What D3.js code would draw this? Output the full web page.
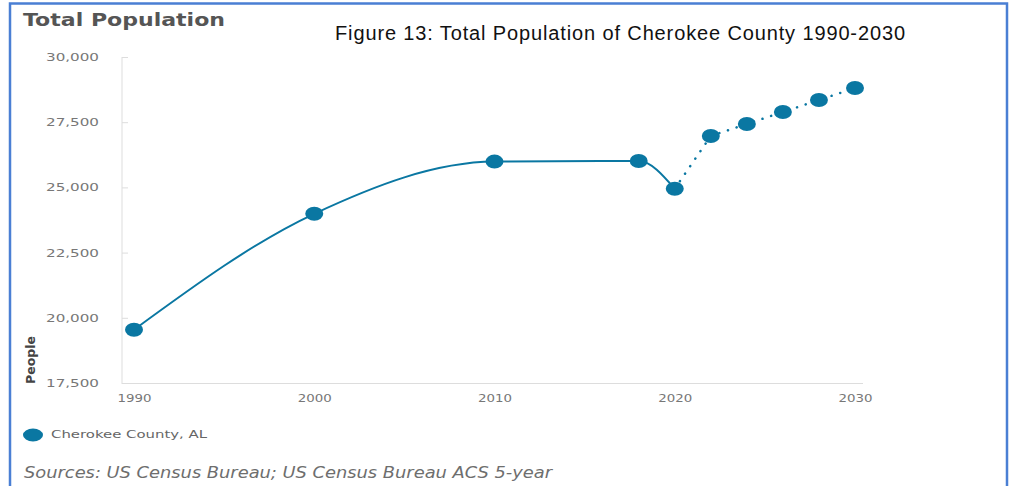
<!DOCTYPE html>
<html lang="en">
<head>
  <meta charset="UTF-8">
  <title>Total Population of Cherokee County 1990-2030</title>
  <script src="https://cdn.jsdelivr.net/npm/d3@7"></script>
  <style>
    body { margin: 0; background: #fff; }
    .tick text { font-family: "DejaVu Sans", sans-serif; fill: #777; }
  </style>
</head>
<body>
  <svg width="1014" height="486"></svg>
  <script>
    // observed values (census) and projections
    var years = [1990, 2000, 2010, 2018, 2020];
    var people = [19543, 23988, 25989, 26013, 24950];
    var projYears = [2020, 2022, 2024, 2026, 2028, 2030];
    var projPeople = [24950, 26971, 27431, 27891, 28351, 28811];
    var yTicks = [17500, 20000, 22500, 25000, 27500, 30000];
    var xTicks = [1990, 2000, 2010, 2020, 2030];
    var color = "#0a77a2";

    var svg = d3.select("svg");

    // blue frame round the picture
    svg.append("path")
      .attr("d", "M10,496 L10,3.5 L1007,3.5 L1007,496")
      .attr("fill", "none")
      .attr("stroke", "#4a7fd4")
      .attr("stroke-width", 2.5);

    var x = d3.scaleLinear().domain([1990, 2030]).range([134, 855]);
    var y = d3.scaleLinear().domain([17500, 30000]).range([383, 57]);

    // titles
    svg.append("text")
      .attr("x", 23).attr("y", 26)
      .style("font-family", "DejaVu Sans, sans-serif")
      .style("font-weight", "bold")
      .style("font-size", "18px")
      .style("fill", "#555")
      .attr("textLength", 202)
      .attr("lengthAdjust", "spacingAndGlyphs")
      .text("Total Population");

    svg.append("text")
      .attr("x", 335).attr("y", 40)
      .style("font-family", "Liberation Sans, sans-serif")
      .style("font-size", "20px")
      .style("fill", "#111")
      .attr("textLength", 570)
      .text("Figure 13: Total Population of Cherokee County 1990-2030");

    // axes
    var yAxis = d3.axisLeft(y).tickValues(yTicks).tickSizeInner(-6).tickSizeOuter(0)
      .tickPadding(23).tickFormat(d3.format(","));
    var gy = svg.append("g").attr("transform", "translate(122,0)").call(yAxis);
    gy.select(".domain").remove();
    gy.selectAll(".tick line").attr("stroke", "#ddd");
    gy.selectAll(".tick text").style("font-size", "11px")
      .attr("textLength", 53).attr("lengthAdjust", "spacingAndGlyphs");

    var xAxis = d3.axisBottom(x).tickValues(xTicks).tickSize(0).tickPadding(11)
      .tickFormat(d3.format("d"));
    var gx = svg.append("g").attr("transform", "translate(0,383)").call(xAxis);
    gx.select(".domain").remove();
    gx.selectAll(".tick text").style("font-size", "11px")
      .attr("textLength", 34).attr("lengthAdjust", "spacingAndGlyphs");

    svg.append("line").attr("x1", 122).attr("x2", 122).attr("y1", y(30000)).attr("y2", 384)
      .attr("stroke", "#ddd");
    svg.append("line").attr("x1", 122).attr("x2", 863).attr("y1", 383.5).attr("y2", 383.5)
      .attr("stroke", "#ddd");

    svg.append("text")
      .attr("transform", "translate(35,360) rotate(-90)")
      .attr("text-anchor", "middle")
      .style("font-family", "DejaVu Sans, sans-serif")
      .style("font-weight", "bold")
      .style("font-size", "12.5px")
      .style("fill", "#444")
      .text("People");

    // lines
    var line = d3.line()
      .x(function(d) { return x(d[0]); })
      .y(function(d) { return y(d[1]); })
      .curve(d3.curveMonotoneX);

    var observed = years.map(function(d, i) { return [d, people[i]]; });
    var projected = projYears.map(function(d, i) { return [d, projPeople[i]]; });

    svg.append("path")
      .datum(observed)
      .attr("d", line)
      .attr("fill", "none")
      .attr("stroke", color)
      .attr("stroke-width", 2);

    svg.append("path")
      .datum(projected)
      .attr("d", d3.line()
        .x(function(d) { return x(d[0]); })
        .y(function(d) { return y(d[1]); }))
      .attr("fill", "none")
      .attr("stroke", color)
      .attr("stroke-width", 2.5)
      .attr("stroke-linecap", "round")
      .attr("stroke-dasharray", "0.1 9");

    // markers
    var allPts = observed.concat(projected.slice(1));
    svg.selectAll(".pt")
      .data(allPts)
      .enter().append("ellipse")
      .attr("class", "pt")
      .attr("cx", function(d) { return x(d[0]); })
      .attr("cy", function(d) { return y(d[1]); })
      .attr("rx", 9)
      .attr("ry", 7)
      .attr("fill", color);

    // legend
    svg.append("ellipse")
      .attr("cx", 33).attr("cy", 435).attr("rx", 10).attr("ry", 6.5)
      .attr("fill", color);
    svg.append("text")
      .attr("x", 51).attr("y", 438)
      .style("font-family", "DejaVu Sans, sans-serif")
      .style("font-size", "11px")
      .style("fill", "#666")
      .attr("textLength", 156)
      .attr("lengthAdjust", "spacingAndGlyphs")
      .text("Cherokee County, AL");

    svg.append("text")
      .attr("x", 24).attr("y", 478)
      .style("font-family", "DejaVu Sans, sans-serif")
      .style("font-style", "italic")
      .style("font-size", "16px")
      .style("fill", "#6e6e6e")
      .attr("textLength", 528)
      .attr("lengthAdjust", "spacingAndGlyphs")
      .text("Sources: US Census Bureau; US Census Bureau ACS 5-year");
  </script>
</body>
</html>
